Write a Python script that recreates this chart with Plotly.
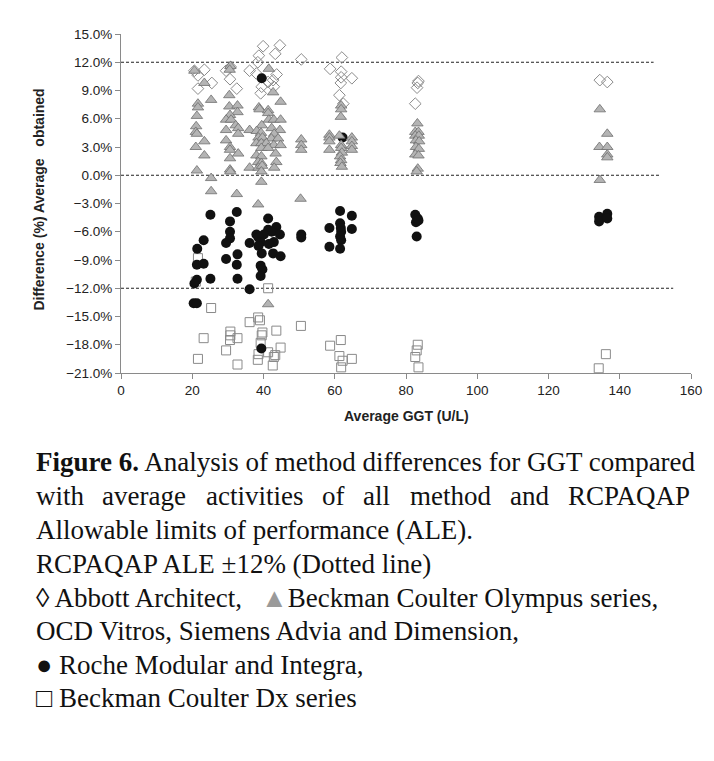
import plotly.graph_objects as go

# ── data: (Average GGT U/L, difference %) ────────────────────────────────────
abbott_x = [39.9, 44.6, 38.7, 43.3, 38.4, 50.6, 20.6, 23.4, 21.6, 29.5, 30.6, 30.8, 36.1, 38.0,
            43.7, 42.7, 41.3, 39.5, 42.9, 39.2, 21.6, 25.5, 32.5, 62.0, 58.7, 61.8, 61.8,
            64.8, 61.7, 61.3, 62.4, 83.5, 83.3, 83.1, 82.6, 134.4, 136.5]
abbott_y = [13.7, 13.8, 12.7, 12.9, 12.0, 12.3, 11.1, 11.2, 10.6, 11.1, 10.2, 11.5, 11.1, 10.8,
            10.7, 10.1, 9.9, 9.4, 9.4, 8.7, 9.2, 9.8, 9.2, 12.5, 11.3, 11.0, 10.4,
            10.3, 9.8, 8.5, 7.6, 10.0, 9.8, 9.3, 7.6, 10.1, 9.9]

olympus_x = [20.6, 23.4, 25.3, 21.6, 21.6, 21.3, 21.1, 21.0, 21.3, 21.0, 23.4, 23.4, 21.3, 25.3, 25.3,
             30.7, 30.5, 30.4, 30.4, 32.7, 32.7, 30.6, 29.5, 30.9, 32.2, 32.9, 29.5, 32.9, 29.5,
             30.6, 30.6, 30.6, 32.9, 30.6, 30.7, 32.5,
             36.1, 36.1, 38.7, 38.9, 41.3, 41.3, 44.8, 41.5, 42.7, 41.5, 42.9, 44.8, 39.5, 42.3,
             44.6, 38.1, 39.3, 43.0, 38.6, 39.7, 42.2, 44.1, 38.0, 39.4, 40.8, 42.9, 44.8, 39.4,
             41.3, 43.4, 38.0, 39.4, 38.5, 39.4, 43.6, 38.6, 39.6, 43.0, 39.4, 39.4, 38.5, 41.3,
             50.6, 50.6, 50.6, 50.4,
             61.8, 61.8, 61.7, 58.5, 58.5, 58.5, 58.5, 61.3, 61.8, 61.8, 62.0, 61.5, 61.8, 61.6,
             62.0, 64.8, 64.8, 64.8, 64.8,
             83.2, 82.6, 83.5, 82.6, 83.6, 82.8, 83.7, 82.8, 83.6, 82.6, 83.5, 83.3, 83.0,
             134.4, 136.5, 134.3, 136.5, 136.5, 136.5, 134.4]
olympus_y = [11.1, 9.8, 8.0, 7.6, 7.2, 6.3, 5.2, 4.6, 4.4, 3.0, 3.6, 2.1, 0.5, -0.3, -1.7,
             11.6, 11.2, 8.5, 7.3, 7.4, 6.7, 6.4, 5.9, 5.9, 5.3, 5.0, 4.8, 4.4, 3.7,
             3.0, 2.7, 1.8, 2.3, 0.6, 0.4, -2.0,
             4.8, 0.8, 7.2, 7.0, 6.9, 6.6, 7.8, 11.3, 8.8, 5.9, 5.9, 5.9, 5.3, 5.0,
             4.8, 4.7, 4.5, 4.4, 4.0, 4.0, 3.9, 3.9, 3.4, 3.4, 3.4, 3.2, 3.2, 2.9,
             2.9, 2.3, 2.1, 2.0, 1.4, 1.3, 1.4, 0.8, 1.0, 0.8, 0.4, -0.7, -3.1, -13.7,
             3.8, 3.2, 2.7, -2.5,
             7.4, 7.0, 6.2, 4.3, 4.0, 3.6, 2.7, 4.2, 3.2, 2.9, 2.4, 2.0, 1.6, 1.3,
             0.9, 4.0, 3.6, 3.1, 2.7,
             5.5, 4.6, 4.6, 4.2, 4.2, 3.7, 3.6, 3.0, 2.8, 2.2, 2.1, 0.7, 0.4,
             7.0, 4.4, 3.0, 3.0, 2.2, 1.9, -0.5]

roche_x = [39.5, 25.1, 32.5, 30.6, 30.6, 30.6, 29.5, 23.2, 21.4, 32.7, 29.5, 21.3, 23.2, 32.5,
           21.3, 20.6, 25.1, 32.7, 36.1, 20.4, 21.3, 41.3, 38.0, 43.6, 41.3, 42.3, 44.6, 40.1,
           38.6, 42.9, 39.2, 41.5, 36.1, 38.6, 39.5, 42.7, 44.8, 39.2, 39.7, 39.2, 39.4,
           50.6, 50.6, 62.2, 61.5, 64.8, 58.5, 61.5, 61.7, 61.8, 61.5, 61.8, 64.8, 58.5, 61.5,
           82.6, 83.3, 82.8, 83.5, 83.0, 134.2, 134.2, 136.5, 136.5]
roche_y = [10.3, -4.2, -3.9, -4.9, -6.0, -6.7, -7.2, -6.9, -7.8, -8.4, -8.9, -9.5, -9.4, -9.5,
           -11.1, -11.5, -11.0, -11.0, -12.1, -13.6, -13.6, -4.6, -6.3, -5.5, -5.8, -6.0, -6.3, -6.3,
           -6.6, -7.1, -7.1, -7.3, -7.2, -7.5, -8.3, -8.3, -8.6, -9.6, -10.0, -10.7, -18.4,
           -6.3, -6.6, 4.0, -3.8, -4.3, -5.6, -5.1, -5.6, -6.0, -6.5, -6.9, -5.7, -7.6, -7.8,
           -4.2, -4.6, -5.0, -4.8, -6.5, -4.4, -4.9, -4.1, -4.6]

dx_x = [21.6, 21.0, 25.3, 41.3, 38.5, 39.0, 36.1, 30.7, 30.7, 30.6, 32.7, 23.2, 39.7, 39.5,
        43.6, 50.5, 39.2, 29.5, 21.6, 44.8, 41.3, 42.9, 43.3, 38.6, 38.4, 32.7, 42.6,
        61.7, 58.7, 61.3, 62.2, 64.8, 61.8, 83.3, 83.0, 82.6, 83.5, 136.1, 134.1]
dx_y = [-8.8, -11.3, -14.1, -12.0, -15.1, -15.4, -15.6, -16.6, -17.0, -17.5, -17.3, -17.3, -16.7, -17.0,
        -16.5, -16.0, -17.8, -18.6, -19.5, -18.3, -18.8, -19.3, -19.1, -19.0, -19.6, -20.1, -20.2,
        -17.5, -18.1, -19.2, -19.7, -19.5, -20.4, -18.0, -18.6, -19.3, -20.4, -19.0, -20.5]

# RCPAQAP allowable limits (dotted lines) and the zero line, with their end points
ale_levels = [12, 0, -12]
ale_ends = [149.5, 151.5, 155]

# ── plot geometry (pixels) ───────────────────────────────────────────────────
W, H = 714, 761
L, R, T, B = 121, 695, 34, 373
SANS = "Liberation Sans, Arial, sans-serif"
SERIF = "Liberation Serif, Times New Roman, serif"


def px(x):
    return (x - L) / (R - L)


def py(y):
    return (B - y) / (B - T)


fig = go.Figure()

for lvl, end in zip(ale_levels, ale_ends):
    fig.add_trace(go.Scatter(x=[0, end], y=[lvl, lvl], mode="lines",
                             line=dict(color="#222", width=1.2, dash="3px,2px"),
                             hoverinfo="skip", showlegend=False))

fig.add_trace(go.Scatter(x=abbott_x, y=abbott_y, mode="markers", name="Abbott Architect",
                         marker=dict(symbol="diamond-open", size=9, color="#8a8a8a",
                                     line=dict(width=1))))
fig.add_trace(go.Scatter(x=dx_x, y=dx_y, mode="markers", name="Beckman Coulter Dx series",
                         marker=dict(symbol="square-open", size=9, color="#8a8a8a",
                                     line=dict(width=1))))
fig.add_trace(go.Scatter(x=roche_x, y=roche_y, mode="markers", name="Roche Modular and Integra",
                         marker=dict(symbol="circle", size=10, color="#111",
                                     line=dict(width=0))))
fig.add_trace(go.Scatter(x=olympus_x, y=olympus_y, mode="markers",
                         name="Beckman Coulter Olympus series, OCD Vitros, Siemens Advia and Dimension",
                         marker=dict(symbol="triangle-up", size=10, color="#b4b4b4",
                                     line=dict(width=0.8, color="#6e6e6e"))))

tick_font = dict(family=SANS, size=13.5, color="#222")
fig.update_layout(
    width=W, height=H,
    margin=dict(l=L, r=W - R, t=T, b=H - B),
    paper_bgcolor="white", plot_bgcolor="white",
    showlegend=False,
    font=dict(family=SANS, size=12, color="#222"),
    xaxis=dict(range=[0, 160], dtick=20, tick0=0, showgrid=False, zeroline=False,
               showline=True, linecolor="#8a8a8a", linewidth=1,
               ticks="outside", ticklen=5, tickcolor="#8a8a8a", tickfont=tick_font),
    yaxis=dict(range=[-21, 15], dtick=3, tick0=0, showgrid=False, zeroline=False,
               showline=True, linecolor="#8a8a8a", linewidth=1,
               ticks="outside", ticklen=5, tickcolor="#8a8a8a",
               tickformat=".1f", ticksuffix="%", tickfont=tick_font),
)

ann = []
# axis titles
title_font = dict(family=SANS, size=14, color="#222")
ann.append(dict(text="<b>Difference (%) Average   obtained</b>", textangle=-90,
                x=px(38), y=py(200), font=title_font))
ann.append(dict(text="<b>Average GGT (U/L)</b>", x=px(408), y=py(416), font=title_font))

# caption (justified second line is laid out word by word)
cap = dict(family=SERIF, size=27, color="#111")
X0 = 33
ann.append(dict(text="<b>Figure 6.</b> Analysis of method differences for GGT compared",
                x=px(X0), y=py(462), xanchor="left", font=cap))
words = [("with", X0), ("average", 99.5), ("activities", 205), ("of", 321.5), ("all", 363),
         ("method", 410.5), ("and", 511)]
for w, xx in words:
    ann.append(dict(text=w, x=px(xx), y=py(496), xanchor="left", font=cap))
ann.append(dict(text="RCPAQAP", x=px(696), y=py(496), xanchor="right", font=cap))
ann.append(dict(text="Allowable limits of performance (ALE).",
                x=px(X0), y=py(530), xanchor="left", font=cap))
ann.append(dict(text="RCPAQAP ALE \u00b112% (Dotted line)",
                x=px(X0), y=py(564), xanchor="left", font=cap))
ann.append(dict(text="\u25ca Abbott Architect,",
                x=px(X0), y=py(598), xanchor="left", font=cap))
ann.append(dict(text="<span style='color:#9a9a9a'>\u25b2</span>Beckman Coulter Olympus series,",
                x=px(260), y=py(598), xanchor="left", font=cap))
ann.append(dict(text="OCD Vitros, Siemens Advia and Dimension,",
                x=px(X0), y=py(631), xanchor="left", font=cap))
ann.append(dict(text="\u25cf Roche Modular and Integra,",
                x=px(X0), y=py(665), xanchor="left", font=cap))
ann.append(dict(text="\u25a1 Beckman Coulter Dx series",
                x=px(X0), y=py(698), xanchor="left", font=cap))

for a in ann:
    a.update(xref="paper", yref="paper", showarrow=False, yanchor="middle")
    a.setdefault("xanchor", "center")
fig.update_layout(annotations=ann)

fig.write_html("out.html", config={"displayModeBar": False},
               post_script="document.body.style.margin='0px';")
